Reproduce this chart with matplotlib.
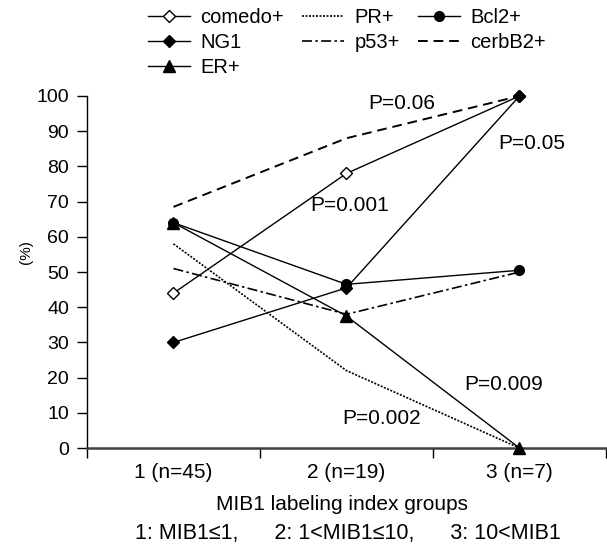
import matplotlib.pyplot as plt
import numpy as np

plt.rcParams['font.family'] = ['Liberation Sans', 'DejaVu Sans']

groups = ['1 (n=45)', '2 (n=19)', '3 (n=7)']
comedo = [44, 78, 100]
ng1 = [30, 45.5, 100]
er = [64, 37.5, 0]
pr = [58, 22, 0]
p53 = [51, 38, 50]
bcl2 = [64, 46.5, 50.5]
cerbb2 = [68.5, 88, 100]

p_labels = ['P=0.06', 'P=0.05', 'P=0.001', 'P=0.009', 'P=0.002']
p_pos = [(1.32, 98), (2.07, 86.4), (1.02, 69), (1.91, 18), (1.2, 8.5)]

x = np.arange(len(groups))

fig = plt.figure(figsize=(6.07, 5.58), dpi=100)
ax = fig.add_axes([0.1433, 0.197, 0.855, 0.631])

lw = 1.0
ax.plot(x, comedo, '-', color='black', lw=lw, marker='D', ms=6,
        mfc='white', mec='black', mew=1, label='comedo+', clip_on=False, zorder=4)
ax.plot(x, ng1, '-', color='black', lw=lw, marker='D', ms=6,
        label='NG1', clip_on=False, zorder=4)
ax.plot(x, er, '-', color='black', lw=lw, marker='^', ms=8,
        label='ER+', clip_on=False, zorder=4)
ax.plot(x, pr, color='black', lw=1.2, dashes=(1.2, 0.9),
        label='PR+', clip_on=False)
ax.plot(x, p53, color='black', lw=1.2, dashes=(6, 2, 1.5, 2),
        label='p53+', clip_on=False)
ax.plot(x, bcl2, '-', color='black', lw=lw, marker='o', ms=7,
        label='Bcl2+', clip_on=False, zorder=4)
ax.plot(x, cerbb2, color='black', lw=1.4, dashes=(5, 3),
        label='cerbB2+', clip_on=False)

for txt, (px, py) in zip(p_labels, p_pos):
    ax.text(px, py, txt, fontsize=15, ha='center', va='center')

ax.set_xlim(-0.5, 2.5)
ax.set_ylim(0, 100)
ax.set_yticks(range(0, 101, 10))
ax.tick_params(axis='y', labelsize=14, length=7, width=1, direction='out', pad=6)
ax.set_xticks([-0.5, 0.5, 1.5, 2.5])
ax.set_xticklabels([])
ax.set_xticks(x, minor=True)
ax.set_xticklabels(groups, minor=True, fontsize=15)
ax.tick_params(axis='x', which='major', length=7, width=1, direction='out')
ax.tick_params(axis='x', which='minor', length=0, pad=11)

ax.spines['top'].set_visible(False)
ax.spines['right'].set_visible(False)
ax.spines['bottom'].set_color('#404040')
ax.spines['bottom'].set_linewidth(1.8)
ax.spines['left'].set_linewidth(1.0)

fig.text(342 / 607, 1 - 505 / 558, 'MIB1 labeling index groups',
         fontsize=15, ha='center', va='center')
fig.text(348 / 607, 1 - 533 / 558,
         '1: MIB1\u22641,      2: 1<MIB1\u226410,      3: 10<MIB1',
         fontsize=15.5, ha='center', va='center')
fig.text(26 / 607, 1 - 252 / 558, '(%)', fontsize=11, rotation=90,
         ha='center', va='center')

fig.legend(loc='upper left', bbox_to_anchor=(148 / 607, 1 - 8 / 558),
           ncol=3, frameon=False, fontsize=14.5, handlelength=2.1,
           handletextpad=0.5, columnspacing=0.9, labelspacing=0.3,
           borderpad=0, borderaxespad=0)

fig.savefig('out.png', dpi=100)
